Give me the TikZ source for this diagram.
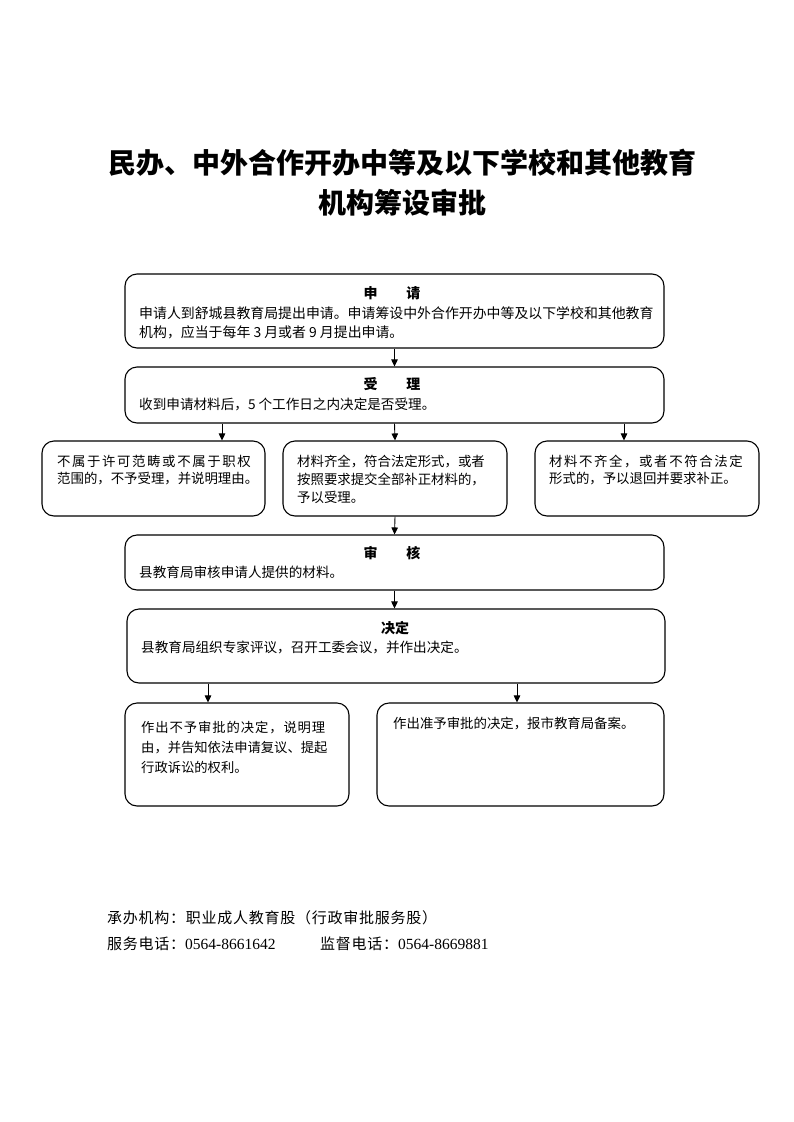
\documentclass[tikz,border=0pt]{standalone}
\usepackage{fontspec}
\newfontfamily\cjk{Noto Sans CJK SC}
\newfontfamily\tnr{Liberation Serif}
\usetikzlibrary{arrows.meta}
\tikzset{
  box/.style={draw, line width=1.1pt, rounded corners=12pt, inner sep=0pt},
  arr/.style={line width=0.9pt, -{Triangle[length=7pt,width=6.5pt]}},
  txt/.style={anchor=north west, align=left, inner sep=0pt},
  head/.style={font=\cjk\bfseries\fontsize{14}{16}\selectfont, anchor=base, inner sep=0pt},
  ttl/.style={font=\cjk\bfseries\fontsize{28}{30}\selectfont, anchor=base, inner sep=0pt},
  foot/.style={font=\cjk\fontsize{15}{16}\selectfont\addfontfeature{LetterSpace=5}, anchor=base west, inner sep=0pt}
}
\newcommand{\fa}{\cjk\fontsize{13.6}{19}\selectfont}
\newcommand{\faa}{\cjk\fontsize{13.9}{19}\selectfont}
\newcommand{\fb}{\cjk\fontsize{13.4}{18}\selectfont}
\newcommand{\fc}{\cjk\fontsize{13.4}{17.5}\selectfont}
\newcommand{\fd}{\cjk\fontsize{13.3}{20}\selectfont}
\newcommand{\fe}{\cjk\fontsize{13.4}{19}\selectfont}
\newcommand{\spc}[2]{{\addfontfeature{LetterSpace=#1}#2}}
\newcommand{\dg}[1]{{\tnr\fontsize{15.5}{16}\selectfont #1}}
\begin{document}
\begin{tikzpicture}[x=1pt,y=-1pt]
\useasboundingbox[fill=white] (0,0) rectangle (793,1122);
% title
\node[ttl] (t1) at (402.5,173) {民办、中外合作开办中等及以下学校和其他教育};
\node[ttl] (t2) at (402,213) {机构筹设审批};
% boxes
\node[box, minimum width=539pt, minimum height=74pt] (b1) at (394.5,311) {};
\node[box, minimum width=539pt, minimum height=56pt] (b2) at (394.5,395) {};
\node[box, minimum width=223pt, minimum height=75pt] (b3a) at (153.5,478.5) {};
\node[box, minimum width=224pt, minimum height=75pt] (b3b) at (395,478.5) {};
\node[box, minimum width=224pt, minimum height=75pt] (b3c) at (647,478.5) {};
\node[box, minimum width=539pt, minimum height=55pt] (b4) at (394.5,562.5) {};
\node[box, minimum width=538pt, minimum height=74pt] (b5) at (396,646) {};
\node[box, minimum width=224pt, minimum height=103pt] (b6a) at (237,754.5) {};
\node[box, minimum width=287pt, minimum height=103pt] (b6b) at (520.5,754.5) {};
% texts
\node[head] (h1) at (392,298) {申\hspace{29pt}请};
\node[txt, font=\faa] (x1) at (139,318-13.3) {\strut 申请人到舒城县教育局提出申请。申请筹设中外合作开办中等及以下学校和其他教育\\机构，应当于每年 3 月或者 9 月提出申请。};
\node[head] (h2) at (392,389) {受\hspace{29pt}理};
\node[txt, font=\fa] (x2) at (139,409-13.3) {\strut 收到申请材料后，5 个工作日之内决定是否受理。};
\node[txt, font=\fc] (x3a) at (57,466-12.25) {\strut\spc{12}{不属于许可范畴或不属于职权}\\范围的，不予受理，并说明理由。};
\node[txt, font=\fb] (x3b) at (297,466-12.6) {\strut 材料齐全，符合法定形式，或者\\按照要求提交全部补正材料的，\\予以受理。};
\node[txt, font=\fc] (x3c) at (549,466-12.25) {\strut\spc{12}{材料不齐全，或者不符合法定}\\形式的，予以退回并要求补正。};
\node[head] (h4) at (392,558) {审\hspace{29pt}核};
\node[txt, font=\fa] (x4) at (139,577-13.3) {\strut 县教育局审核申请人提供的材料。};
\node[head] (h5) at (395,633) {决定};
\node[txt, font=\fa] (x5) at (141,652-13.3) {\strut 县教育局组织专家评议，召开工委会议，并作出决定。};
\node[txt, font=\fd] (x6a) at (141,732-14) {\strut\spc{7}{作出不予审批的决定，说明理}\\由，并告知依法申请复议、提起\\行政诉讼的权利。};
\node[txt, font=\fe] (x6b) at (393,728-13.3) {\strut 作出准予审批的决定，报市教育局备案。};
% footer
\node[foot] (f1) at (107,923) {承办机构：职业成人教育股（行政审批服务股）};
\node[foot] (f2) at (107,949) {服务电话：\dg{0564-8661642}};
\node[foot] (f3) at (320,949) {监督电话：\dg{0564-8669881}};
% arrow columns
\coordinate (cA) at (222,0);
\coordinate (cB) at (624,0);
\coordinate (cC) at (208,0);
\coordinate (cD) at (517,0);
% arrows
\draw[arr] (b1.south) -- (b2.north);
\draw[arr] (b2.south -| cA) -- (b3a.north -| cA);
\draw[arr] (b2.south) -- (b3b.north);
\draw[arr] (b2.south -| cB) -- (b3c.north -| cB);
\draw[arr] (b3b.south) -- (b4.north);
\draw[arr] (b4.south) -- (b5.north -| b4.south);
\draw[arr] (b5.south -| cC) -- (b6a.north -| cC);
\draw[arr] (b5.south -| cD) -- (b6b.north -| cD);
\end{tikzpicture}
\end{document}
